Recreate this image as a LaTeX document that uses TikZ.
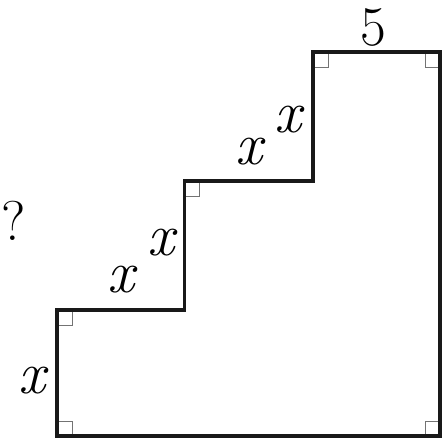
\documentclass[tikz,border=0pt]{standalone}
\begin{document}
\begin{tikzpicture}[x=1pt,y=-1pt,
  edge/.style={line width=3.2pt,line join=miter,black!90},
  rmark/.style={line width=1pt,black!55},
  lbl/.style={inner sep=0pt,font=\fontsize{56}{62}\selectfont},
  xl/.style={inner sep=0pt,font=\fontsize{60}{66}\selectfont\itshape}]
\useasboundingbox (0,0) rectangle (442,439);
\coordinate (A) at (57,436);
\coordinate (B) at (57,310);
\coordinate (C) at (184.5,310);
\coordinate (D) at (184.5,181);
\coordinate (E) at (313,181);
\coordinate (F) at (313,52);
\coordinate (G) at (440,52);
\coordinate (H) at (440,436);
% right-angle marks
\draw[rmark] ([shift={(0,-15)}]A) -| ([shift={(15,0)}]A);
\draw[rmark] ([shift={(0,15)}]B) -| ([shift={(15,0)}]B);
\draw[rmark] ([shift={(0,15)}]D) -| ([shift={(15,0)}]D);
\draw[rmark] ([shift={(0,15)}]F) -| ([shift={(15,0)}]F);
\draw[rmark] ([shift={(0,15)}]G) -| ([shift={(-15,0)}]G);
\draw[rmark] ([shift={(0,-15)}]H) -| ([shift={(-15,0)}]H);
\draw[edge] (A) -- (B) -- (C) -- (D) -- (E) -- (F) -- (G) -- (H) -- cycle;
\node[lbl] (l5) at (373,27) {5};
\node[xl] (x1) at (288,120) {x};
\node[xl] (x2) at (249,152) {x};
\node[xl] (x3) at (161,243) {x};
\node[xl] (x4) at (121,280) {x};
\node[xl] (x5) at (32,381) {x};
\node[lbl] (q) at (13.5,221) {?};
\end{tikzpicture}
\end{document}
